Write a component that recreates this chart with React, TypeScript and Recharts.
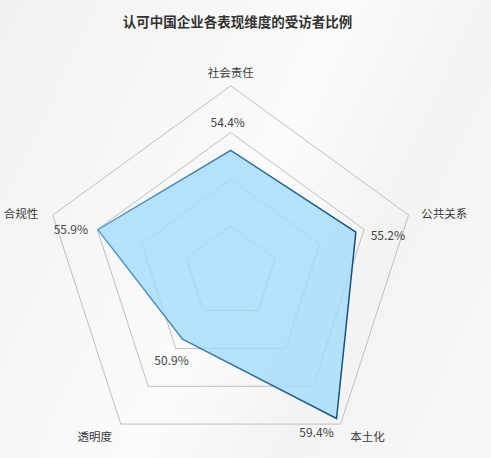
import React from 'react';
import { RadarChart, Radar, PolarGrid, PolarAngleAxis, PolarRadiusAxis } from 'recharts';

const dimensions = ['社会责任', '公共关系', '本土化', '透明度', '合规性'];
const shares = [54.4, 55.2, 59.4, 50.9, 55.9];
const radiusDomain: [number, number] = [43.8, 59.8];
const radiusTicks = [43.8, 47.8, 51.8, 55.8, 59.8];
const chartTitle = '认可中国企业各表现维度的受访者比例';

const data = dimensions.map((d, i) => ({ dim: d, value: shares[i] }));

const OUTER_R = 187;

// label placement (style only)
const valueOffsets = [
  { dx: -3, dy: -29, anchor: 'middle' },
  { dx: 32, dy: 2, anchor: 'middle' },
  { dx: -20, dy: 13, anchor: 'middle' },
  { dx: -11, dy: 20, anchor: 'middle' },
  { dx: -27, dy: -1, anchor: 'middle' },
];
const tickOffsets = [
  { dx: 0, dy: -6, anchor: 'middle' },
  { dx: 5, dy: 0, anchor: 'start' },
  { dx: 5, dy: 5, anchor: 'start' },
  { dx: -4, dy: 5, anchor: 'end' },
  { dx: -7, dy: 0, anchor: 'end' },
];

const FONT = '"Noto Sans CJK SC", "Noto Sans", sans-serif';

const AngleTick = (props: any) => {
  const { x, y, payload, index } = props;
  const o = tickOffsets[index] || { dx: 0, dy: 0, anchor: 'middle' };
  return (
    <text
      x={x + o.dx}
      y={y + o.dy}
      textAnchor={o.anchor}
      dominantBaseline="central"
      fontSize={11.5}
      fill="#3a3a3a"
      fontFamily={FONT}
    >
      {payload.value}
    </text>
  );
};

const ValueLabel = (props: any) => {
  const { x, y, index, value } = props;
  const o = valueOffsets[index] || { dx: 0, dy: 0, anchor: 'middle' };
  return (
    <text
      x={x + o.dx}
      y={y + o.dy}
      textAnchor={o.anchor}
      dominantBaseline="central"
      fontSize={12}
      fill="#444"
      fontFamily={FONT}
    >
      {`${Number(value).toFixed(1)}%`}
    </text>
  );
};

// ring radii derived from the radius-axis ticks through the same linear mapping
const ringRadii = radiusTicks.map(
  (t) => ((t - radiusDomain[0]) / (radiusDomain[1] - radiusDomain[0])) * OUTER_R
);

export default function App() {
  return (
    <div
      style={{
        position: 'fixed',
        left: 0,
        top: 0,
        width: 491,
        height: 458,
        background:
          'linear-gradient(115deg, #f1f1f1 0%, #f7f7f7 30%, #fbfbfb 50%, #f3f3f3 70%, #f8f8f8 100%)',
      }}
    >
      <div
        style={{
          position: 'absolute',
          top: 11,
          left: 0,
          width: 475,
          textAlign: 'center',
          fontFamily: FONT,
          fontWeight: 700,
          fontSize: 13.5,
          color: '#333',
          lineHeight: '20px',
        }}
      >
        {chartTitle}
      </div>
      <RadarChart
        width={491}
        height={458}
        data={data}
        cx={230.7}
        cy={272.8}
        outerRadius={OUTER_R}
        startAngle={90}
        endAngle={-270}
        style={{ position: 'absolute', left: 0, top: 0 }}
      >
        <defs>
          <linearGradient id="strokeGrad" x1="0" y1="0" x2="1" y2="0">
            <stop offset="0%" stopColor="#5c9fcf" />
            <stop offset="100%" stopColor="#12507e" />
          </linearGradient>
        </defs>
        <PolarGrid
          gridType="polygon"
          radialLines={false}
          polarRadius={ringRadii}
          stroke="#c2bfbc"
          strokeWidth={1}
        />
        <PolarAngleAxis dataKey="dim" tick={AngleTick} tickLine={false} axisLine={false} />
        <PolarRadiusAxis
          domain={radiusDomain}
          ticks={radiusTicks as any}
          tickCount={5}
          tick={false}
          axisLine={false}
        />
        <Radar
          dataKey="value"
          fill="#a2dbfb"
          fillOpacity={0.8}
          stroke="url(#strokeGrad)"
          strokeWidth={1.5}
          isAnimationActive={false}
          label={ValueLabel}
        />
      </RadarChart>
    </div>
  );
}
